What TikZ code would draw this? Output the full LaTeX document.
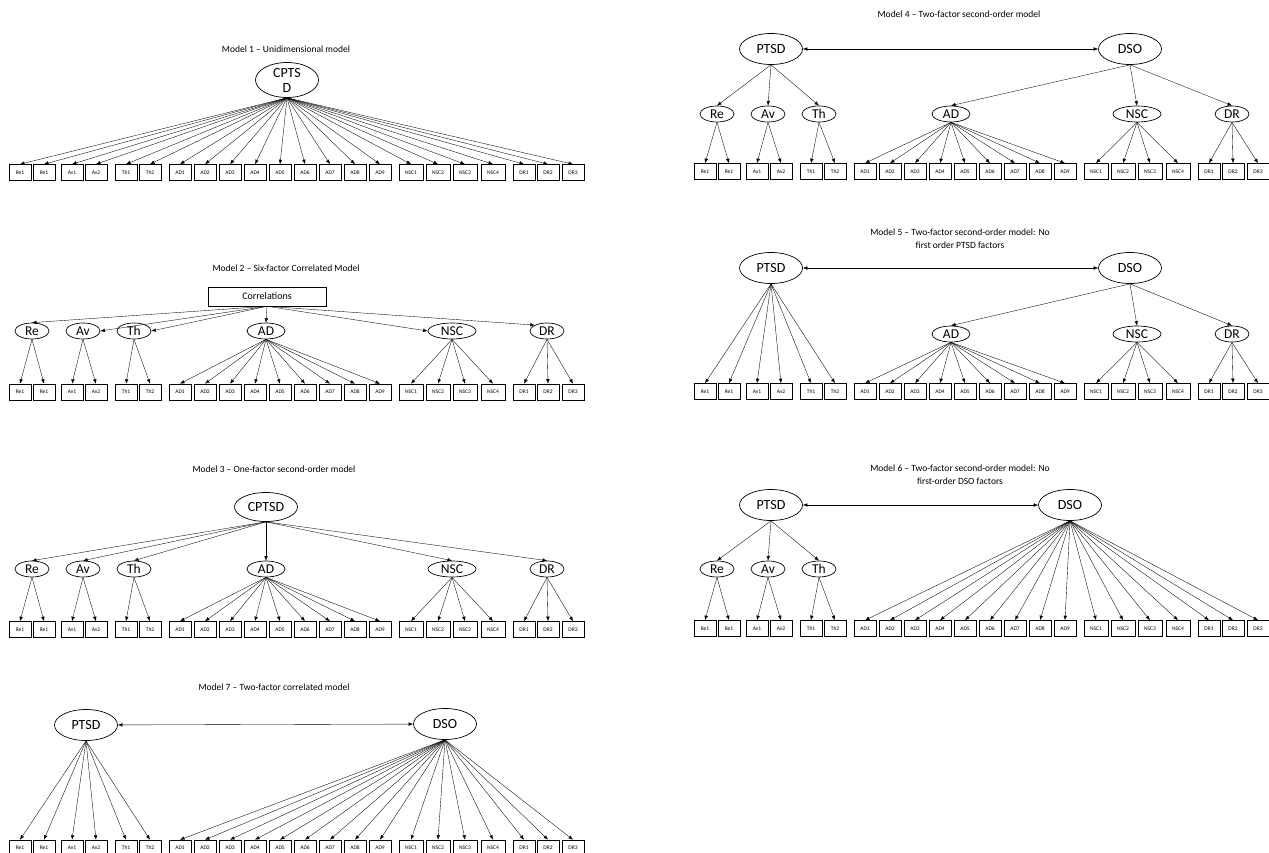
\documentclass[tikz,border=0pt]{standalone}
\usepackage{fontspec}
\setmainfont{Carlito}
\usetikzlibrary{shapes.geometric,arrows.meta}
\tikzset{
 ind/.style={draw, line width=0.6pt, minimum width=22pt, minimum height=16pt, inner sep=0pt, font=\fontsize{5.5}{6}\selectfont},
 indw/.style={ind, minimum width=24pt},
 fac/.style={ellipse, draw, line width=0.7pt, minimum height=16pt, inner sep=0pt, font=\fontsize{13.5}{14}\selectfont},
 big/.style={ellipse, draw, line width=0.7pt, minimum width=63pt, minimum height=31pt, inner sep=0pt, align=center, font=\fontsize{14}{15}\selectfont},
 arr/.style={-{Latex[length=4.5pt,width=3.5pt]}, line width=0.35pt},
 darr/.style={{Latex[length=4.5pt,width=3.5pt]}-{Latex[length=4.5pt,width=3.5pt]}, line width=0.35pt},
 ttl/.style={font=\fontsize{9.5}{13}\selectfont, align=center, inner sep=0pt},
}
\newcommand\indrow[3]{%
 \foreach \nm/\lab/\xx in {r1/Re1/20, r2/Re1/44, v1/Av1/72, v2/Av2/96, t1/Th1/126, t2/Th2/150, a1/AD1/180, a2/AD2/205, a3/AD3/230, a4/AD4/255, a5/AD5/280, a6/AD6/305, a7/AD7/330, a8/AD8/355, a9/AD9/380, d1/DR1/524, d2/DR2/548, d3/DR3/573}
  \node[ind] (#1\nm) at (\xx+#2, #3) {\lab};
 \foreach \nm/\lab/\xx in {n1/NSC1/411, n2/NSC2/438, n3/NSC3/465, n4/NSC4/493}
  \node[indw] (#1\nm) at (\xx+#2, #3) {\lab};
}
\newcommand\facrow[3]{%
 \foreach \nm/\xx/\ww in {Re/32/34, Av/83/34, Th/134/34, AD/266/38, NSC/452/48, DR/547/34}
  \node[fac, minimum width=\ww pt] (#1\nm) at (\xx+#2, #3) {\nm};
 \foreach \f/\i in {Re/r1, Re/r2, Av/v1, Av/v2, Th/t1, Th/t2, AD/a1, AD/a2, AD/a3, AD/a4, AD/a5, AD/a6, AD/a7, AD/a8, AD/a9, NSC/n1, NSC/n2, NSC/n3, NSC/n4, DR/d1, DR/d2, DR/d3}
  \draw[arr] (#1\f.south) -- (#1\i.north);
}
\newcommand\ptsdfan[2]{%
 \foreach \i in {r1,r2,v1,v2,t1,t2}
  \draw[arr] (#2.south) -- (#1\i.north);
}
\newcommand\dsofan[2]{%
 \foreach \i in {a1,a2,a3,a4,a5,a6,a7,a8,a9,n1,n2,n3,n4,d1,d2,d3}
  \draw[arr] (#2.south) -- (#1\i.north);
}
\begin{document}
\begin{tikzpicture}[x=1pt,y=-1pt]
\useasboundingbox (0,0) rectangle (1269,853);
% ---------- Model 1
\node[ttl] (t1) at (286,49) {Model 1 – Unidimensional model};
\indrow{m1}{0}{172.5}
\node[big, minimum height=35pt] (m1c) at (287,80) {CPTS\\D};
\foreach \i in {r1,r2,v1,v2,t1,t2}
  \draw[arr] (m1c.south) -- (m1\i.north);
\dsofan{m1}{m1c}
% ---------- Model 2
\node[ttl] (t2) at (286,268) {Model 2 – Six-factor Correlated Model};
\indrow{m2}{0}{392}
\facrow{m2}{0}{331}
\node[draw, line width=0.6pt, minimum width=118pt, minimum height=19pt, inner sep=0pt, font=\fontsize{10}{12}\selectfont] (m2c) at (267,296.5) {Correlations};
\draw[arr] (m2c.south) -- (m2Re.north);
\draw[arr] (m2c.south) -- (m2Av.east);
\draw[arr] (m2c.south) -- (m2Th.east);
\draw[arr] (m2c.south) -- (m2AD.north);
\draw[arr] (m2c.south) -- (m2NSC.west);
\draw[arr] (m2c.south) -- (m2DR.north west);
% ---------- Model 3
\node[ttl] (t3) at (274,469) {Model 3 – One-factor second-order model};
\indrow{m3}{0}{629.5}
\facrow{m3}{0}{569}
\node[big, minimum height=29pt] (m3c) at (266,507) {CPTSD};
\foreach \f in {Re,Av,Th,AD,NSC,DR}
  \draw[arr] (m3c.south) -- (m3\f.north);
% ---------- Model 7
\node[ttl] (t7) at (274,687) {Model 7 – Two-factor correlated model};
\indrow{m7}{0}{848}
\node[big] (m7p) at (86,725) {PTSD};
\node[big] (m7d) at (445,724) {DSO};
\draw[darr] (m7p) -- (m7d);
\ptsdfan{m7}{m7p}
\dsofan{m7}{m7d}
% ---------- Model 4
\node[ttl] (t4) at (959,14) {Model 4 – Two-factor second-order model};
\indrow{m4}{685}{171.5}
\facrow{m4}{685}{114}
\node[big] (m4p) at (771,49) {PTSD};
\node[big] (m4d) at (1130,49) {DSO};
\draw[darr] (m4p) -- (m4d);
\foreach \f in {Re,Av,Th}
  \draw[arr] (m4p.south) -- (m4\f.north);
\foreach \f in {AD,NSC,DR}
  \draw[arr] (m4d.south) -- (m4\f.north);
% ---------- Model 5
\node[ttl] (t5) at (960,238.5) {Model 5 – Two-factor second-order model: No\\first order PTSD factors};
\indrow{m5}{685}{391.5}
\foreach \nm/\xx/\ww in {AD/266/38, NSC/452/48, DR/547/34}
  \node[fac, minimum width=\ww pt] (m5\nm) at (\xx+685, 334) {\nm};
\foreach \f/\i in {AD/a1, AD/a2, AD/a3, AD/a4, AD/a5, AD/a6, AD/a7, AD/a8, AD/a9, NSC/n1, NSC/n2, NSC/n3, NSC/n4, DR/d1, DR/d2, DR/d3}
  \draw[arr] (m5\f.south) -- (m5\i.north);
\node[big] (m5p) at (771,268) {PTSD};
\node[big] (m5d) at (1130,268) {DSO};
\draw[darr] (m5p) -- (m5d);
\ptsdfan{m5}{m5p}
\foreach \f in {AD,NSC,DR}
  \draw[arr] (m5d.south) -- (m5\f.north);
% ---------- Model 6
\node[ttl] (t6) at (960,475) {Model 6 – Two-factor second-order model: No\\first-order DSO factors};
\indrow{m6}{685}{628.5}
\foreach \nm/\xx in {Re/32, Av/83, Th/134}
  \node[fac, minimum width=34pt] (m6\nm) at (\xx+685, 569) {\nm};
\foreach \f/\i in {Re/r1, Re/r2, Av/v1, Av/v2, Th/t1, Th/t2}
  \draw[arr] (m6\f.south) -- (m6\i.north);
\node[big] (m6p) at (771,505) {PTSD};
\node[big] (m6d) at (1070,505) {DSO};
\draw[darr] (m6p) -- (m6d);
\foreach \f in {Re,Av,Th}
  \draw[arr] (m6p.south) -- (m6\f.north);
\dsofan{m6}{m6d}
\end{tikzpicture}
\end{document}
